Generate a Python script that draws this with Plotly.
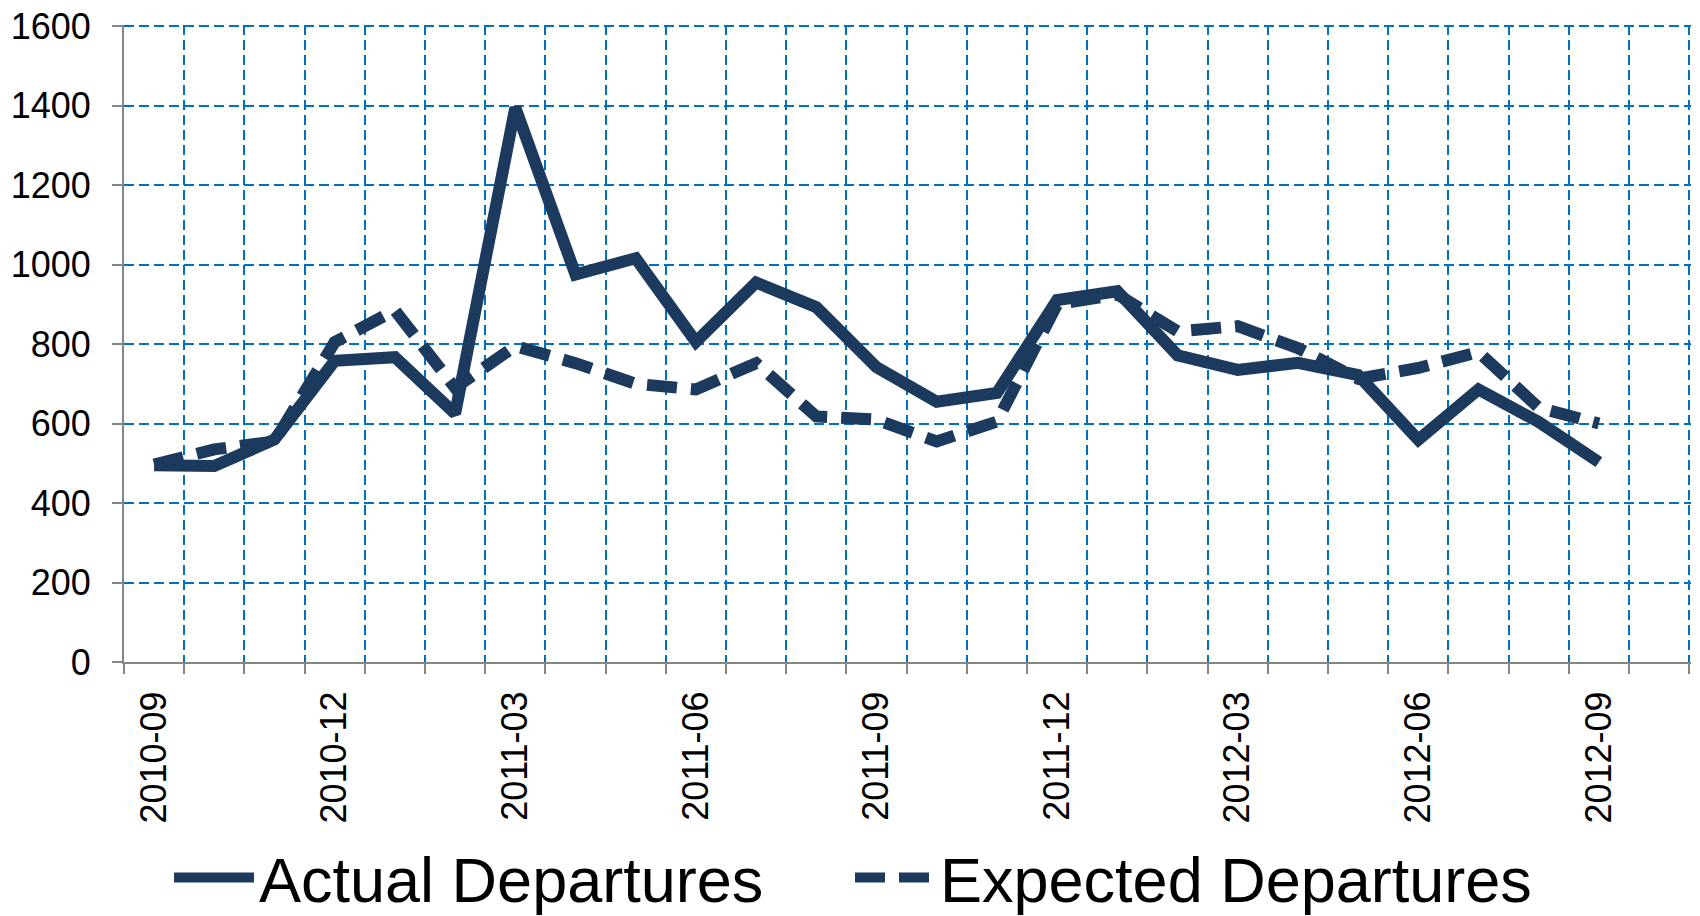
import plotly.graph_objects as go

months = ["2010-09", "2010-10", "2010-11", "2010-12", "2011-01", "2011-02", "2011-03",
          "2011-04", "2011-05", "2011-06", "2011-07", "2011-08", "2011-09", "2011-10",
          "2011-11", "2011-12", "2012-01", "2012-02", "2012-03", "2012-04", "2012-05",
          "2012-06", "2012-07", "2012-08", "2012-09"]
actual = [495, 493, 560, 758, 767, 625, 1395, 975, 1016, 806, 955, 893, 742, 655,
          677, 911, 933, 772, 735, 753, 722, 559, 686, 604, 503]
expected = [497, 535, 555, 805, 885, 690, 795, 752, 700, 686, 752, 618, 610, 555,
            605, 900, 925, 832, 845, 790, 713, 740, 780, 640, 600]
y_ticks = [0, 200, 400, 600, 800, 1000, 1200, 1400, 1600]

x_idx = list(range(len(months)))
label_idx = x_idx[::3]
label_txt = months[::3]

NAVY = "#1B3A5E"
GRID = "#0070C0"
AXIS = "#868686"
FONT = "Liberation Sans, Arial, sans-serif"

fig = go.Figure()
fig.add_trace(go.Scatter(x=x_idx, y=actual, mode="lines", name="Actual Departures",
                         line=dict(color=NAVY, width=12)))
fig.add_trace(go.Scatter(x=x_idx, y=expected, mode="lines", name="Expected Departures",
                         line=dict(color=NAVY, width=12, dash="30px,14px")))

fig.update_layout(
    width=1700, height=916,
    margin=dict(l=124, r=9, t=25, b=254, autoexpand=False),
    paper_bgcolor="white", plot_bgcolor="white",
    font=dict(family=FONT, color="black"),
    legend=dict(orientation="h", xref="container", yref="container",
                x=0.5, xanchor="center", y=0.042, yanchor="middle",
                font=dict(size=63, family=FONT, color="black"),
                itemwidth=80, traceorder="normal", entrywidth=586,
                entrywidthmode="pixels"),
    xaxis=dict(range=[-0.5, len(months) + 0.53], tickmode="array",
               tickvals=label_idx, ticktext=label_txt, tickangle=-90,
               tickfont=dict(size=36), ticks="outside", ticklen=10,
               tickcolor="rgba(0,0,0,0)", ticklabelstandoff=3,
               showgrid=False, zeroline=False, automargin=False,
               showline=True, linecolor=AXIS, linewidth=2,
               minor=dict(tick0=-0.5, dtick=1, ticks="outside", ticklen=10,
                          tickcolor=AXIS, tickwidth=2, showgrid=True,
                          gridcolor=GRID, gridwidth=1.5, griddash="10px,5px")),
    yaxis=dict(range=[0, 1603], tickmode="array", tickvals=y_ticks,
               tickfont=dict(size=36), ticks="outside", ticklen=10,
               tickcolor=AXIS, tickwidth=2, ticklabelstandoff=14,
               ticklabeloverflow="allow",
               showgrid=True, gridcolor=GRID, gridwidth=1.5, griddash="10px,5px",
               zeroline=False, showline=True, linecolor=AXIS, linewidth=2,
               automargin=False),
)

fig.write_html("out.html", config={"displayModeBar": False},
               post_script="document.body.style.margin='0';")
